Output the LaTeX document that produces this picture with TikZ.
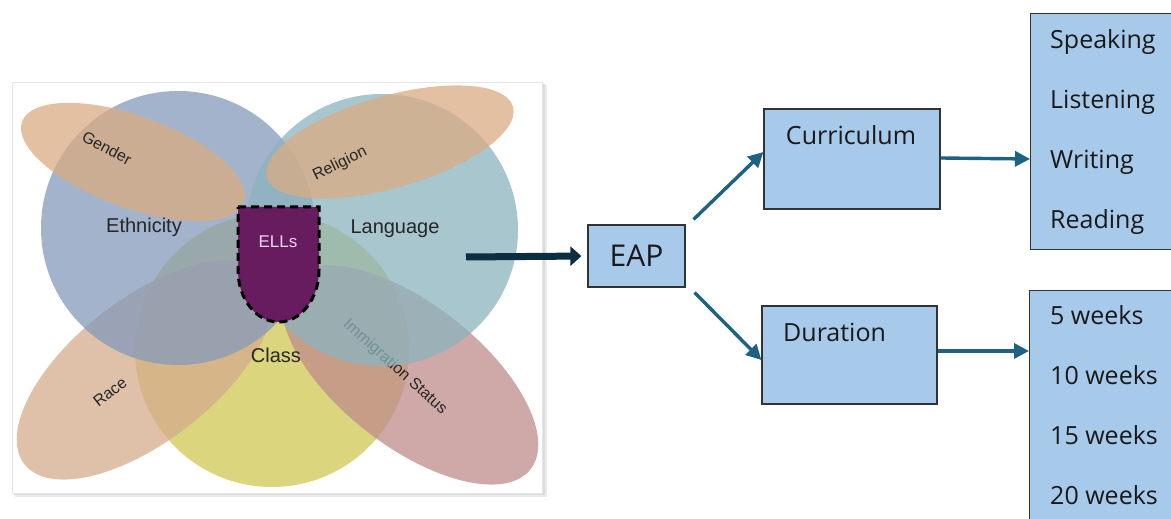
\documentclass[tikz,border=0pt]{standalone}
\usepackage{fontspec}
\setmainfont{Liberation Sans}
\newfontfamily\boxfont{Open Sans}
\usetikzlibrary{arrows.meta,calc,positioning}

\definecolor{ethblue}{RGB}{132,154,186}
\definecolor{langteal}{RGB}{140,179,190}
\definecolor{classyellow}{RGB}{208,199,83}
\definecolor{peach}{RGB}{218,172,130}
\definecolor{racepeach}{RGB}{213,172,140}
\definecolor{immpink}{RGB}{192,140,139}
\definecolor{ellpurple}{RGB}{104,28,96}
\definecolor{boxblue}{RGB}{167,201,234}
\definecolor{flowteal}{RGB}{29,98,130}
\definecolor{navy}{RGB}{13,45,64}

\tikzset{
  blob/.style={fill=#1, fill opacity=0.75},
  tag/.style={font=\fontsize{16}{18}\selectfont, text=black!85, inner sep=0pt},
  biglabel/.style={font=\fontsize{20}{22}\selectfont, text=black!85, inner sep=0pt},
  box/.style={draw=black!80, line width=1.2pt, fill=boxblue, inner sep=0pt},
  boxtext/.style={font=\boxfont\fontsize{25}{28}\selectfont, text=black!90, inner sep=0pt},
  flow/.style={-{Triangle[length=15pt,width=15pt]}, line width=3.4pt, draw=flowteal},
}

\begin{document}
\begin{tikzpicture}[x=1pt,y=1pt]
\clip (0,0) rectangle (1171,519);

% left panel with the circles
\fill[black!8] (15,22) rectangle (547,434);
\fill[black!14] (14,24) rectangle (545,435);
\filldraw[fill=white, draw=black!10] (12,26) rectangle (542,437);

\fill[blob=classyellow] (272,169) circle (137);
\fill[blob=racepeach] (145,149) ellipse [x radius=153, y radius=71, rotate=38];
\fill[blob=immpink] (410,144) ellipse [x radius=153, y radius=71, rotate=-38];
\node[tag, rotate=-42] (immig) at (395,152) {Immigration Status};
\fill[blob=ethblue] (178,291) circle (137);
\fill[blob=langteal] (382,289) circle (136);
\fill[blob=peach] (133,357) ellipse [x radius=118, y radius=46, rotate=-20];
\fill[blob=peach] (390,377) ellipse [x radius=128, y radius=46, rotate=16];

\filldraw[fill=ellpurple, draw=black, line width=3pt, dash pattern=on 8pt off 5pt]
  (238,312) -- (319,312) -- (319,249) arc[start angle=0, end angle=-180, x radius=40.5, y radius=52] -- cycle;

\node[biglabel] (eth) at (144,292) {Ethnicity};
\node[biglabel] (lang) at (395,290) {Language};
\node[biglabel] (class) at (276,164) {Class};
\node[font=\fontsize{17}{19}\selectfont, text={rgb,255:red,236;green,214;blue,236}] (ells) at (278,277) {ELLs};
\node[tag, rotate=-28] (gender) at (107,371) {Gender};
\node[tag, rotate=26] (religion) at (340,355) {Religion};
\node[tag, rotate=38] (race) at (110,127) {Race};

% flow on the right
\coordinate (src) at (466,262);
\node[box, minimum width=97, minimum height=62] (eap) at (636.5,263) {};
\node[boxtext, font=\boxfont\fontsize{30}{32}\selectfont] at (eap) {EAP};
\node[box, minimum width=176, minimum height=100] (cur) at (852,360) {};
\node[boxtext, anchor=base] (curtext) at (851,374) {Curriculum};
\node[box, minimum width=175, minimum height=98] (dur) at (849.5,164) {};
\node[boxtext, anchor=base west] (durtext) at (783,177) {Duration};
\node[box, anchor=north west, minimum width=170, minimum height=236] (skills) at (1030,506) {};
\node[box, anchor=north west, minimum width=170, minimum height=250] (weeks) at (1029,229) {};

\foreach \t [count=\i] in {Speaking,Listening,Writing,Reading}
  \node[boxtext, anchor=base west] (skill\i) at (1050,{470-59.7*(\i-1)}) {\t};
\foreach \t [count=\i] in {5 weeks,10 weeks,15 weeks,20 weeks}
  \node[boxtext, anchor=base west] (week\i) at (1050,{194-60*(\i-1)}) {\t};

\draw[-{Triangle[length=11pt,width=19pt]}, line width=7pt, draw=navy, shorten >=6pt] (src) -- (eap.west);
\draw[flow] ($(eap.north east)+(8,5)$) -- ([yshift=7pt]cur.west);
\draw[flow] ($(eap.south east)+(9,-5)$) -- ([yshift=-5pt]dur.west);
\draw[flow] ([yshift=1pt]cur.east) -- ([yshift=-146pt]skills.north west);
\draw[flow] ([yshift=4pt]dur.east) -- ([yshift=-61pt]weeks.north west);
\end{tikzpicture}
\end{document}
